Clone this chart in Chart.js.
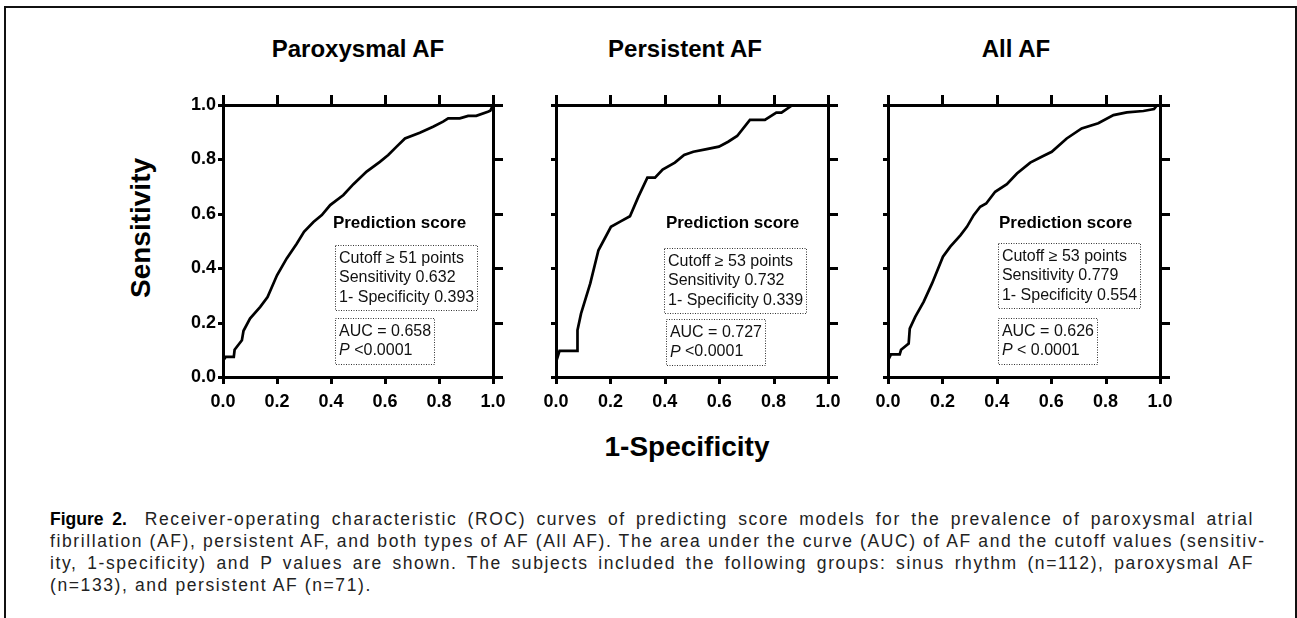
<!DOCTYPE html>
<html>
<head>
<meta charset="utf-8">
<script src="https://cdn.jsdelivr.net/npm/chart.js@4.4.1/dist/chart.umd.min.js"></script>
<style>
  body { margin: 0; background: #fff; width: 1297px; height: 618px; overflow: hidden; position: relative;
         font-family: "Liberation Sans", Arial, Helvetica, sans-serif; color: #000; }
  .frame { position: absolute; left: 4px; top: 6px; width: 1289px; height: 700px;
           border-top: 2px solid #111; border-left: 2px solid #111; border-right: 2px solid #111; }
  canvas.panel { position: absolute; top: 0; }
  .ptitle { position: absolute; top: 37px; font-size: 24px; line-height: 24px; font-weight: bold;
            white-space: nowrap; transform: translateX(-50%); }
  .xtitle { position: absolute; left: 687px; top: 433px; font-size: 28px; line-height: 28px; font-weight: bold;
            white-space: nowrap; transform: translateX(-50%); }
  .ytitle { position: absolute; left: 41px; top: 214px; width: 200px; text-align: center; font-size: 28px;
            line-height: 28px; font-weight: bold; transform: rotate(-90deg); }
  .caption { position: absolute; left: 50px; top: 508px; width: 1204px; font-size: 17.5px; line-height: 22px;
             color: #222; letter-spacing: 1.6px; }
  .caption div { white-space: nowrap; }
  .caption .j { text-align: justify; text-align-last: justify; }
  .caption b { color: #000; letter-spacing: 0; margin-right: 18px; }
</style>
</head>
<body>
<div class="frame"></div>

<div class="ptitle" style="left:358px">Paroxysmal AF</div>
<div class="ptitle" style="left:685px">Persistent AF</div>
<div class="ptitle" style="left:1016px">All AF</div>
<div class="ytitle">Sensitivity</div>
<div class="xtitle">1-Specificity</div>

<canvas id="c0" class="panel"></canvas>
<canvas id="c1" class="panel"></canvas>
<canvas id="c2" class="panel"></canvas>

<div class="caption">
  <div class="j"><b>Figure 2.</b>Receiver-operating characteristic (ROC) curves of predicting score models for the prevalence of paroxysmal atrial</div>
  <div class="j">fibrillation (AF), persistent AF, and both types of AF (All AF). The area under the curve (AUC) of AF and the cutoff values (sensitiv-</div>
  <div class="j">ity, 1-specificity) and P values are shown. The subjects included the following groups: sinus rhythm (n=112), paroxysmal AF</div>
  <div>(n=133), and persistent AF (n=71).</div>
</div>

<script>
// ROC curves (1-specificity, sensitivity)
var paroxFpr = [0, 0, 0.01, 0.04, 0.043, 0.07, 0.076, 0.10, 0.138, 0.165, 0.20, 0.236, 0.273, 0.30, 0.335, 0.366, 0.397,
  0.446, 0.483, 0.532, 0.581, 0.612, 0.643, 0.674, 0.729, 0.778, 0.815, 0.834, 0.877, 0.908, 0.938, 0.981, 0.99, 1];
var paroxTpr = [0, 0.06, 0.074, 0.074, 0.10, 0.135, 0.17, 0.215, 0.258, 0.294, 0.374, 0.436, 0.49, 0.534, 0.57, 0.595, 0.632,
  0.669, 0.709, 0.755, 0.791, 0.816, 0.847, 0.877, 0.898, 0.92, 0.939, 0.951, 0.951, 0.96, 0.96, 0.975, 0.979, 1];

var persFpr = [0, 0, 0.013, 0.079, 0.079, 0.092, 0.126, 0.156, 0.202, 0.236, 0.272, 0.303, 0.336, 0.364, 0.392, 0.437,
  0.471, 0.505, 0.554, 0.599, 0.633, 0.666, 0.713, 0.768, 0.81, 0.829, 0.87, 1];
var persTpr = [0, 0.055, 0.096, 0.096, 0.172, 0.233, 0.344, 0.466, 0.552, 0.571, 0.591, 0.663, 0.733, 0.733, 0.763, 0.788,
  0.816, 0.828, 0.838, 0.847, 0.865, 0.886, 0.945, 0.945, 0.972, 0.972, 1, 1];

var allFpr = [0, 0, 0.011, 0.043, 0.048, 0.076, 0.08, 0.10, 0.131, 0.162, 0.202, 0.229, 0.266, 0.29, 0.315, 0.339, 0.361,
  0.394, 0.437, 0.474, 0.523, 0.565, 0.602, 0.657, 0.712, 0.773, 0.829, 0.878, 0.939, 0.978, 0.99, 1];
var allTpr = [0, 0.061, 0.083, 0.083, 0.10, 0.123, 0.178, 0.221, 0.276, 0.344, 0.442, 0.479, 0.521, 0.552, 0.595, 0.626,
  0.638, 0.681, 0.709, 0.748, 0.788, 0.81, 0.828, 0.877, 0.914, 0.933, 0.963, 0.973, 0.978, 0.985, 1, 1];

var cutoffs = [51, 53, 53];
var sensAtCut = ['0.632', '0.732', '0.779'];
var specAtCut = ['0.393', '0.339', '0.554'];
var aucs = ['0.658', '0.727', '0.626'];
var pTexts = [' <0.0001', ' <0.0001', ' < 0.0001'];
var tickLabels = ['0.0', '0.2', '0.4', '0.6', '0.8', '1.0'];

// panel placement (chart area left edge / width in px) and note anchors (data units)
var plotLefts = [223, 556, 888];
var plotWidths = [270, 272, 272];
var notePos = [
  { head: [0.407, 0.566], box1: [0.415, 0.485], box2: [0.415, 0.217] },
  { head: [0.404, 0.566], box1: [0.397, 0.474], box2: [0.404, 0.213] },
  { head: [0.408, 0.566], box1: [0.404, 0.493], box2: [0.404, 0.217] }
];
// outward tick mark length per axis
var tickLen = { x: 7, x2: 10, y: 5, y2: 10 };

var FONT = '"Liberation Sans", Arial, Helvetica, sans-serif';

function toPoints(xs, ys) {
  return xs.map(function(x, i) { return { x: x, y: ys[i] }; });
}

// Draw a dotted box with text lines; each line is a list of [text, italic] pieces
function drawNoteBox(ctx, left, top, lines) {
  var lineH = 19.5, padL = 3, padR = 4;
  var w = 0;
  lines.forEach(function(parts) {
    var lw = 0;
    parts.forEach(function(p) {
      ctx.font = (p[1] ? 'italic ' : '') + '16px ' + FONT;
      lw += ctx.measureText(p[0]).width;
    });
    w = Math.max(w, lw);
  });
  var h = lines.length * lineH + 6.5;
  ctx.save();
  ctx.setLineDash([1, 1.5]);
  ctx.strokeStyle = '#333';
  ctx.lineWidth = 1;
  ctx.strokeRect(Math.round(left) + 0.5, Math.round(top) + 0.5, Math.round(w + padL + padR), Math.round(h));
  ctx.restore();
  ctx.fillStyle = '#111';
  ctx.textBaseline = 'middle';
  ctx.textAlign = 'left';
  lines.forEach(function(parts, i) {
    var x = left + padL + 1;
    var y = top + 13.5 + i * lineH;
    parts.forEach(function(p) {
      ctx.font = (p[1] ? 'italic ' : '') + '16px ' + FONT;
      ctx.fillText(p[0], x, y);
      x += ctx.measureText(p[0]).width;
    });
  });
}

var notesPlugin = {
  id: 'notes',
  afterDatasetsDraw: function(chart, args, opts) {
    var i = opts.index;
    var ctx = chart.ctx, xs = chart.scales.x, ys = chart.scales.y;
    var pos = notePos[i];
    ctx.save();
    ctx.fillStyle = '#000';
    ctx.font = 'bold 17px ' + FONT;
    ctx.textBaseline = 'middle';
    ctx.textAlign = 'left';
    ctx.fillText('Prediction score', xs.getPixelForValue(pos.head[0]), ys.getPixelForValue(pos.head[1]));
    drawNoteBox(ctx, xs.getPixelForValue(pos.box1[0]), ys.getPixelForValue(pos.box1[1]), [
      [['Cutoff \u2265 ' + cutoffs[i] + ' points', false]],
      [['Sensitivity ' + sensAtCut[i], false]],
      [['1- Specificity ' + specAtCut[i], false]]
    ]);
    drawNoteBox(ctx, xs.getPixelForValue(pos.box2[0]), ys.getPixelForValue(pos.box2[1]), [
      [['AUC = ' + aucs[i], false]],
      [['P', true], [pTexts[i], false]]
    ]);
    ctx.restore();
  }
};

// outward tick marks on all four sides of the frame, placed by each scale
var frameTicksPlugin = {
  id: 'frameTicks',
  beforeDatasetsDraw: function(chart) {
    var ctx = chart.ctx, area = chart.chartArea;
    ctx.save();
    ctx.strokeStyle = '#000';
    ctx.lineWidth = 3;
    ctx.lineCap = 'butt';
    Object.keys(tickLen).forEach(function(id) {
      var s = chart.scales[id];
      var len = tickLen[id];
      s.ticks.forEach(function(t) {
        var p = Math.round(s.getPixelForValue(t.value)) + 0.5;
        ctx.beginPath();
        if (s.position === 'bottom') { ctx.moveTo(p, area.bottom); ctx.lineTo(p, area.bottom + len); }
        else if (s.position === 'top') { ctx.moveTo(p, area.top); ctx.lineTo(p, area.top - len); }
        else if (s.position === 'left') { ctx.moveTo(area.left, p); ctx.lineTo(area.left - len, p); }
        else { ctx.moveTo(area.right, p); ctx.lineTo(area.right + len, p); }
        ctx.stroke();
      });
    });
    ctx.restore();
  }
};

function frameAxis(id, position, showLabels, fitSize) {
  var horizontal = position === 'top' || position === 'bottom';
  return {
    type: 'linear',
    axis: horizontal ? 'x' : 'y',
    position: position,
    min: 0,
    max: 1,
    ticks: {
      display: showLabels,
      stepSize: 0.2,
      color: '#000',
      padding: tickLen[id] + (horizontal ? 7 : 2),
      maxRotation: 0,
      font: { family: FONT, size: 18, weight: 'bold' },
      callback: function(v) { return tickLabels[Math.round(v * 5)]; }
    },
    grid: { display: false, drawTicks: false },
    border: { display: true, width: 3, color: '#000' },
    afterFit: function(s) {
      if (horizontal) s.height = fitSize; else s.width = fitSize;
    }
  };
}

var curves = [
  toPoints(paroxFpr, paroxTpr),
  toPoints(persFpr, persTpr),
  toPoints(allFpr, allTpr)
];

curves.forEach(function(points, i) {
  var canvas = document.getElementById('c' + i);
  canvas.width = plotWidths[i] + 120;
  canvas.height = 422;
  canvas.style.left = (plotLefts[i] - 60) + 'px';

  new Chart(canvas.getContext('2d'), {
    type: 'line',
    data: {
      datasets: [{
        data: points,
        borderColor: '#000',
        borderWidth: 2.7,
        pointRadius: 0,
        tension: 0,
        fill: false
      }]
    },
    options: {
      responsive: false,
      animation: false,
      layout: { padding: 0 },
      plugins: {
        legend: { display: false },
        tooltip: { enabled: false },
        notes: { index: i }
      },
      scales: {
        x: frameAxis('x', 'bottom', true, 45),
        x2: frameAxis('x2', 'top', false, 105),
        y: frameAxis('y', 'left', i === 0, 60),
        y2: frameAxis('y2', 'right', false, 60)
      }
    },
    plugins: [frameTicksPlugin, notesPlugin]
  });
});
</script>
</body>
</html>
